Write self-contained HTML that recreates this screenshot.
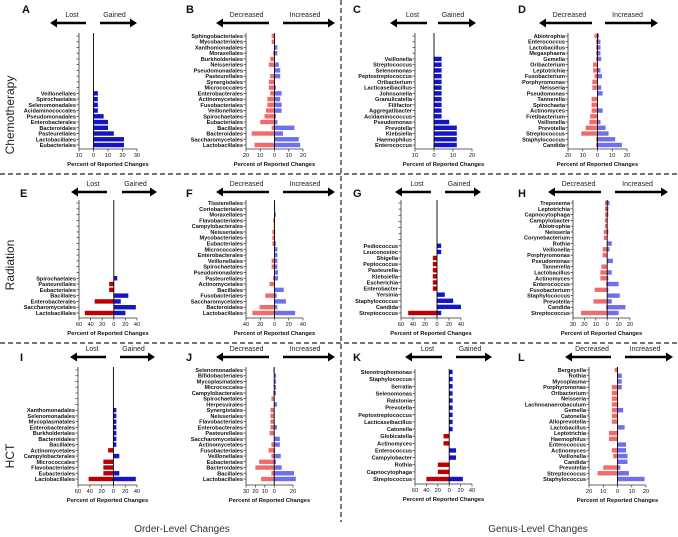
<!DOCTYPE html>
<html><head><meta charset="utf-8"><style>
body{margin:0;background:#fff;}
svg{display:block;font-family:"Liberation Sans",Arial,sans-serif;}
.lab{font-size:5.6px;font-weight:bold;fill:#111;}
.tick{font-size:5.6px;fill:#111;}
.ttl{font-size:5.8px;font-weight:bold;fill:#111;}
.arr{font-size:7px;fill:#222;}
.let{font-size:11px;font-weight:bold;fill:#111;}
</style></head><body>
<svg id="fig" width="678" height="537" viewBox="0 0 678 537">
<line x1="0" y1="174" x2="678" y2="174" stroke="#222" stroke-width="1.2" stroke-dasharray="5,3"/>
<line x1="0" y1="343" x2="678" y2="343" stroke="#222" stroke-width="1.2" stroke-dasharray="5,3"/>
<line x1="341" y1="0" x2="341" y2="522" stroke="#222" stroke-width="1.2" stroke-dasharray="5,3"/>
<text transform="translate(14,115) rotate(-90)" text-anchor="middle" font-size="12" fill="#222">Chemotherapy</text>
<text transform="translate(14,265) rotate(-90)" text-anchor="middle" font-size="12" fill="#222">Radiation</text>
<text transform="translate(14,456) rotate(-90)" text-anchor="middle" font-size="12" fill="#222">HCT</text>
<text x="182" y="532" text-anchor="middle" font-size="10" fill="#333">Order-Level Changes</text>
<text x="538" y="532" text-anchor="middle" font-size="10" fill="#333">Genus-Level Changes</text>
</svg>
<script>
// ---- data (top to bottom) ----
const aLabels=["","","","","","","","","","","Veillonellales","Spirochaetales","Selenomonadales","Acidaminococcales","Pseudomonadales","Enterobacterales","Bacteroidales","Pasteurellales","Lactobacillales","Eubacteriales"];
const aDec=[0,0,0,0,0,0,0,0,0,0,0,0,0,0,0,0,0,0,0,0];
const aInc=[0,0,0,0,0,0,0,0,0,0,3,3,3,3,7,10,10,14,21,21];
const aTicks=[-10,0,10,20,30];

const bLabels=["Sphingobacteriales","Mycobacteriales","Xanthomonadales","Moraxellales","Burkholderiales","Neisseriales","Pseudomonadales","Pasteurellales","Synergistales","Micrococcales","Enterobacterales","Actinomycetales","Fusobacteriales","Veillonellales","Spirochaetales","Eubacteriales","Bacillales","Bacteroidales","Saccharomycetales","Lactobacillales"];
const bDec=[2,2,0,1,3,4,0,3,4,4,3,5,5,6,7,10,2,16,0,14];
const bInc=[0,0,2,2,0,3,4,4,0,1,5,4,5,5,1,2,14,6,17,18];
const bTicks=[-20,-10,0,10,20];

const cLabels=["","","","","Veillonella","Streptococcus","Selenomonas","Peptostreptococcus","Oribacterium","Lacticaseibacillus","Johnsonella","Granulicatella","Filifactor","Aggregatibacter","Acidaminococcus","Pseudomonas","Prevotella","Klebsiella","Haemophilus","Enterococcus"];
const cDec=[0,0,0,0,0,0,0,0,0,0,0,0,0,0,0,0,0,0,0,0];
const cInc=[0,0,0,0,4,4,4,4,4,4,4,4,4,4,4,8,12,12,12,12];
const cTicks=[-10,0,10,20];

const dLabels=["Abiotrophia","Enterococcus","Lactobacillus","Megasphaera","Gemella","Oribacterium","Leptotrichia","Fusobacterium","Porphyromonas","Neisseria","Pseudomonas","Tannerella","Spirochaeta","Actinomyces","Fretibacterium","Veillonella","Prevotella","Streptococcus","Staphylococcus","Candida"];
const dDec=[2,1,1,1,1,3,3,2,3.5,3.5,0,4,4,4,5,5.5,8,11,1,1];
const dInc=[1,2,2,2,2.5,0,2,3,0,2.5,3.5,0,0,3.5,0,2,5.5,7.5,12,16.5];
const dTicks=[-20,-10,0,10,20];

const eLabels=["","","","","","","","","","","","","","Spirochaetales","Pasteurellales","Eubacteriales","Bacillales","Enterobacterales","Saccharomycetales","Lactobacillales"];
const eDec=[0,0,0,0,0,0,0,0,0,0,0,0,0,0,8,8,0,33,0,50];
const eInc=[0,0,0,0,0,0,0,0,0,0,0,0,0,6,0,0,25,12,38,20];
const eTicks=[-60,-40,-20,0,20,40];

const fLabels=["Tissierellales","Coriobacteriales","Moraxellales","Flavobacteriales","Campylobacterales","Neisseriales","Mycobacteriales","Eubacteriales","Micrococcales","Enterobacterales","Veillonellales","Spirochaetales","Pseudomonadales","Pasteurellales","Actinomycetales","Bacillales","Fusobacteriales","Saccharomycetales","Bacteroidales","Lactobacillales"];
const fDec=[0.5,0,0,2,1,3,3,3,0,0,4,4,0,2,7,0,13,0,21,31];
const fInc=[0.5,1,2,0,0,1,0,2,4,4,4,4,5,5,0,13,3,16,4,29];
const fTicks=[-40,-20,0,20,40];

const gLabels=["","","","","","","","Pediococcus","Leuconostoc","Shigella","Peptococcus","Pasteurella","Klebsiella","Escherichia","Enterobacter","Yersinia","Staphylococcus","Candida","Streptococcus"];
const gDec=[0,0,0,0,0,0,0,0,0,7,7,7,7,7,7,0,0,0,48];
const gInc=[0,0,0,0,0,0,0,7,7,0,0,0,0,0,0,13,27,40,7];
const gTicks=[-60,-40,-20,0,20,40];

const hLabels=["Treponema","Leptotrichia","Capnocytophaga","Campylobacter","Abiotrophia","Neisseria","Corynebacterium","Rothia","Veillonella","Porphyromonas","Pseudomonas","Tannerella","Lactobacillus","Actinomyces","Enterococcus","Fusobacterium","Staphylococcus","Prevotella","Candida","Streptococcus"];
const hDec=[2,2,2,2,2,3,3,0,4,4,0,5,6,6,1,11,0,12,1,23];
const hInc=[2,1,1,0,0,1,0,4,2,0,5,0,4,1,10,1,11,4,16,10];
const hTicks=[-30,-20,-10,0,10,20];

const iLabels=["","","","","","","","Xanthomonadales","Selenomonadales","Mycoplasmatales","Enterobacterales","Burkholderiales","Bacteroidales","Bacillales","Actinomycetales","Campylobacterales","Micrococcales","Flavobacteriales","Eubacteriales","Lactobacillales"];
const iDec=[0,0,0,0,0,0,0,0,0,0,0,0,0,0,9,0,17,17,17,42];
const iInc=[0,0,0,0,0,0,0,5,5,5,5,5,5,5,0,10,0,0,10,38];
const iTicks=[-60,-40,-20,0,20,40];

const jLabels=["Selenomonadales","Bifidobacteriales","Mycoplasmatales","Micrococcales","Campylobacterales","Spirochaetales","Herpesvirales","Synergistales","Neisseriales","Flavobacteriales","Enterobacterales","Pasteurellales","Saccharomycetales","Actinomycetales","Fusobacteriales","Veillonellales","Eubacteriales","Bacteroidales","Bacillales","Lactobacillales"];
const jDec=[1,0,0,0,1,3,0,4,4,4,4,5,0,3,6,3,16,20,3,14];
const jInc=[0,2,2,2,2,0,3,0,0,0,3,0,6,6,1,7,2,8,21,23];
const jTicks=[-30,-20,-10,0,20];

const kLabels=["Stenotrophomonas","Staphylococcus","Serratia","Selenomonas","Ralstonia","Prevotella","Peptostreptococcus","Lacticaseibacillus","Catonella","Globicatella","Actinomyces","Enterococcus","Campylobacter","Rothia","Capnocytophaga","Streptococcus"];
const kDec=[0,0,0,0,0,0,0,0,0,10,10,0,0,20,20,40];
const kInc=[6,6,6,6,6,6,6,6,6,0,0,12,12,0,0,24];
const kTicks=[-60,-40,-20,0,20,40];

const lLabels=["Bergeyella","Rothia","Mycoplasma","Porphyromonas","Oribacterium","Neisseria","Lachnoanaerobaculum","Gemella","Catonella","Alloprevotella","Lactobacillus","Leptotrichia","Haemophilus","Enterococcus","Actinomyces","Veillonella","Candida","Prevotella","Streptococcus","Staphylococcus"];
const lDec=[2,0,0,4,4,4,4,4,4,4,0,6,6,0,4,3,0,10,14,0];
const lInc=[0,3,3,3,0,0,0.5,4,0,0,5,0.5,0,6,6,7,7,2,8,19];
const lTicks=[-20,-10,0,10,20];

// ---- layout ----
const NS="http://www.w3.org/2000/svg";
const svg=document.getElementById('fig');
function mk(tag,attrs,parent){const e=document.createElementNS(NS,tag);for(const k in attrs)e.setAttribute(k,attrs[k]);(parent||svg).appendChild(e);return e;}

const panels=[
 {id:'a',L:aLabels,D:aDec,I:aInc,T:aTicks,x0:79,x1:137,min:-10,max:30,y0:36,y1:145,ay:149,dark:true,ll:[50,86],rr:[100,137],ty:23,w:['Lost','Gained'],lx:22,ly:13,n:20},
 {id:'b',L:bLabels,D:bDec,I:bInc,T:bTicks,x0:246,x1:303,min:-20,max:20,y0:36,y1:145,ay:149,dark:false,ll:[216,269],rr:[283,335],ty:23,w:['Decreased','Increased'],lx:186,ly:13,n:20},
 {id:'c',L:cLabels,D:cDec,I:cInc,T:cTicks,x0:415,x1:472,min:-10,max:20,y0:36,y1:145,ay:149,dark:true,ll:[390,427],rr:[438,476],ty:23,w:['Lost','Gained'],lx:353,ly:13,n:20},
 {id:'d',L:dLabels,D:dDec,I:dInc,T:dTicks,x0:568,x1:627,min:-20,max:20,y0:36,y1:145,ay:149,dark:false,ll:[539,592],rr:[605,658],ty:23,w:['Decreased','Increased'],lx:518,ly:13,n:20},
 {id:'e',L:eLabels,D:eDec,I:eInc,T:eTicks,x0:79,x1:137,min:-60,max:40,y0:203,y1:313,ay:318,dark:true,ll:[71,107],rr:[122,157],ty:192,w:['Lost','Gained'],lx:20,ly:197,n:20},
 {id:'f',L:fLabels,D:fDec,I:fInc,T:fTicks,x0:246,x1:303,min:-40,max:40,y0:203,y1:313,ay:318,dark:false,ll:[216,269],rr:[283,335],ty:192,w:['Decreased','Increased'],lx:186,ly:197,n:20},
 {id:'g',L:gLabels,D:gDec,I:gInc,T:gTicks,x0:401,x1:461,min:-60,max:40,y0:203,y1:313,ay:318,dark:true,ll:[395,431],rr:[445,481],ty:192,w:['Lost','Gained'],lx:353,ly:197,n:19},
 {id:'h',L:hLabels,D:hDec,I:hInc,T:hTicks,x0:573,x1:630,min:-30,max:20,y0:203,y1:313,ay:318,dark:false,ll:[548,601],rr:[615,668],ty:192,w:['Decreased','Increased'],lx:518,ly:197,n:20},
 {id:'i',L:iLabels,D:iDec,I:iInc,T:iTicks,x0:78,x1:137,min:-60,max:40,y0:370,y1:479,ay:485,dark:true,ll:[70,106],rr:[120,155],ty:357,w:['Lost','Gained'],lx:20,ly:361,n:20},
 {id:'j',L:jLabels,D:jDec,I:jInc,T:jTicks,x0:246,x1:293,min:-30,max:20,y0:370,y1:479,ay:485,dark:false,ll:[216,269],rr:[283,335],ty:357,w:['Decreased','Increased'],lx:186,ly:361,n:20},
 {id:'k',L:kLabels,D:kDec,I:kInc,T:kTicks,x0:415,x1:472,min:-60,max:40,y0:372,y1:479,ay:484,dark:true,ll:[405,442],rr:[456,492],ty:357,w:['Lost','Gained'],lx:353,ly:361,n:16},
 {id:'l',L:lLabels,D:lDec,I:lInc,T:lTicks,x0:589,x1:646,min:-20,max:20,y0:370,y1:479,ay:485,dark:false,ll:[565,611],rr:[625,673],ty:357,w:['Decreased','Increased'],lx:518,ly:361,n:20}
];

function arrow(g,xa,xb,y,dir){
  const head=7;
  if(dir<0){
    mk('line',{x1:xa+head,y1:y,x2:xb,y2:y,stroke:'#000','stroke-width':2.6},g);
    mk('polygon',{points:`${xa},${y} ${xa+head},${y-4.5} ${xa+head},${y+4.5}`,fill:'#000'},g);
  }else{
    mk('line',{x1:xa,y1:y,x2:xb-head,y2:y,stroke:'#000','stroke-width':2.6},g);
    mk('polygon',{points:`${xb},${y} ${xb-head},${y-4.5} ${xb-head},${y+4.5}`,fill:'#000'},g);
  }
}

panels.forEach(p=>{
  const g=mk('g',{});
  
  
  const sx=v=>p.x0+(v-p.min)/(p.max-p.min)*(p.x1-p.x0);
  const n=p.L.length;
  const sy=i=>p.y0+i*(p.y1-p.y0)/(n-1);
  const bh=Math.min(4.4,(p.y1-p.y0)/(n-1)*0.78);
  const red=p.dark?'#c00000':'#f26b6b', blue=p.dark?'#1515c8':'#6f6ff2';
  // letter
  const lt=mk('text',{x:p.lx,y:p.ly,class:'let'},g); lt.textContent=p.id.toUpperCase();
  
  
  // arrows
  const ga=mk('g',{},g);
  
  
  arrow(ga,p.ll[0],p.ll[1],p.ty,-1);
  arrow(ga,p.rr[0],p.rr[1],p.ty,1);
  const t1=mk('text',{x:(p.ll[0]+p.ll[1])/2+4,y:p.ty-6,class:'arr','text-anchor':'middle'},ga);t1.textContent=p.w[0];
  const t2=mk('text',{x:(p.rr[0]+p.rr[1])/2-4,y:p.ty-6,class:'arr','text-anchor':'middle'},ga);t2.textContent=p.w[1];
  // bars
  for(let i=0;i<n;i++){
    const y=sy(i);
    if(p.D[i]>0){
      const r=mk('rect',{x:sx(-p.D[i]),y:y-bh/2,width:sx(0)-sx(-p.D[i]),height:bh,fill:red},g);
      
      
    }
    if(p.I[i]>0){
      const r=mk('rect',{x:sx(0),y:y-bh/2,width:sx(p.I[i])-sx(0),height:bh,fill:blue},g);
      
      
    }
    mk('line',{x1:p.x0-2.5,y1:y,x2:p.x0,y2:y,stroke:'#333','stroke-width':0.7},g);
    if(p.L[i]){
      const t=mk('text',{x:p.x0-3,y:y+2,class:'lab','text-anchor':'end'},g);t.textContent=p.L[i];
      
      
    }
  }
  // axes
  mk('line',{x1:p.x0,y1:p.y0-3,x2:p.x0,y2:p.ay,stroke:'#333','stroke-width':0.8},g);
  mk('line',{x1:p.x0,y1:p.ay,x2:p.x1,y2:p.ay,stroke:'#333','stroke-width':0.8},g);
  mk('line',{x1:sx(0),y1:p.y0-3,x2:sx(0),y2:p.ay,stroke:'#000','stroke-width':0.9},g);
  p.T.forEach(v=>{
    mk('line',{x1:sx(v),y1:p.ay,x2:sx(v),y2:p.ay+2.5,stroke:'#333','stroke-width':0.7},g);
    const t=mk('text',{x:sx(v),y:p.ay+8,class:'tick','text-anchor':'middle'},g);t.textContent=Math.abs(v);
    
    
  });
  const tt=mk('text',{x:(p.x0+p.x1)/2,y:p.ay+17,class:'ttl','text-anchor':'middle'},g);tt.textContent='Percent of  Reported Changes';
  
  
});
</script>
</body></html>
